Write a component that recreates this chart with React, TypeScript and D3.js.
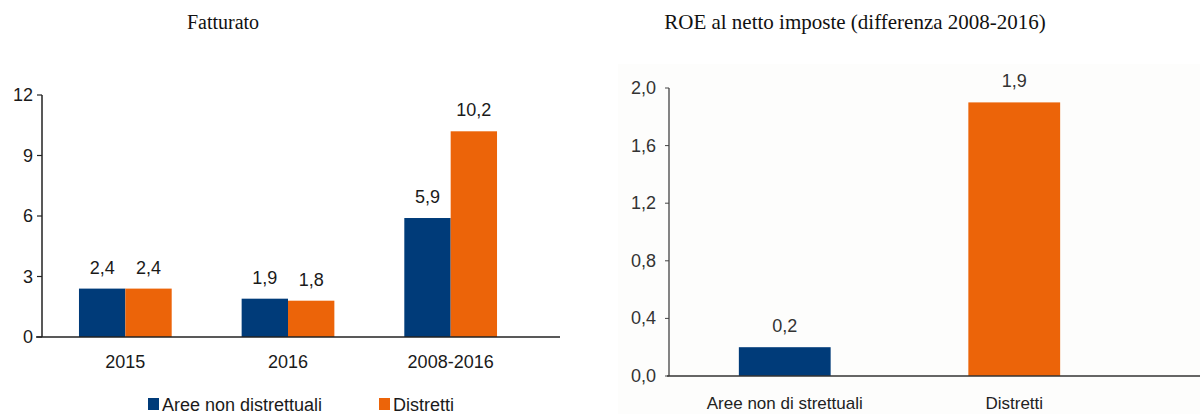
import React from "react";
import * as d3 from "d3";

// Fatturato (left chart)
const periods = ["2015", "2016", "2008-2016"];
const seriesNames = ["Aree non distrettuali", "Distretti"];
const areeNonDistrettuali = [2.4, 1.9, 5.9];
const distretti = [2.4, 1.8, 10.2];
const leftTicks = [0, 3, 6, 9, 12];

// ROE al netto imposte (right chart)
const roeCategories = ["Aree non di strettuali", "Distretti"];
const roeValues = [0.2, 1.9];
const rightTicks = [0, 0.4, 0.8, 1.2, 1.6, 2.0];

const BLUE = "#003b79";
const ORANGE = "#ec6409";
const TEXT = "#1a1a1a";
const SANS = "Arial, 'Liberation Sans', sans-serif";
const SERIF = "'Times New Roman', 'Liberation Serif', serif";

const fmt = (v: number, digits: number) => v.toFixed(digits).replace(".", ",");

function LeftChart() {
  const y = d3.scaleLinear().domain([0, 12]).range([337, 95]);
  const x0 = d3.scaleBand<string>().domain(periods).range([44, 532]).paddingInner(0.43).paddingOuter(0.215);
  const x1 = d3.scaleBand<string>().domain(seriesNames).range([0, x0.bandwidth()]);
  const colors = [BLUE, ORANGE];
  const series = [areeNonDistrettuali, distretti];
  const axisX = 42;

  return (
    <g>
      <text x={223} y={29} textAnchor="middle" fontFamily={SERIF} fontSize={20} fill="#111">
        Fatturato
      </text>
      {periods.map((p, i) =>
        series.map((s, j) => {
          const bx = (x0(p) ?? 0) + (x1(seriesNames[j]) ?? 0);
          const v = s[i];
          return (
            <g key={p + j}>
              <rect x={bx} y={y(v)} width={x1.bandwidth()} height={y(0) - y(v)} fill={colors[j]} />
              <text
                x={bx + x1.bandwidth() / 2}
                y={y(v) - 15}
                textAnchor="middle"
                fontFamily={SANS}
                fontSize={18}
                fill={TEXT}
              >
                {fmt(v, 1)}
              </text>
            </g>
          );
        })
      )}
      <line x1={axisX} x2={axisX} y1={y(12)} y2={y(0)} stroke="#222" strokeWidth={1.5} />
      <line x1={36} x2={560} y1={y(0)} y2={y(0)} stroke="#222" strokeWidth={1.5} />
      {leftTicks.map((t) => (
        <g key={t}>
          <line x1={axisX - 5} x2={axisX} y1={y(t)} y2={y(t)} stroke="#222" strokeWidth={1.2} />
          <text x={33} y={y(t) + 6} textAnchor="end" fontFamily={SANS} fontSize={18} fill={TEXT}>
            {t}
          </text>
        </g>
      ))}
      {periods.map((p) => (
        <text
          key={p}
          x={(x0(p) ?? 0) + x0.bandwidth() / 2}
          y={368}
          textAnchor="middle"
          fontFamily={SANS}
          fontSize={18}
          fill={TEXT}
        >
          {p}
        </text>
      ))}
      <rect x={148} y={398} width={11} height={12} fill={BLUE} />
      <text x={162} y={411} fontFamily={SANS} fontSize={18} fill={TEXT}>
        {seriesNames[0]}
      </text>
      <rect x={379} y={398} width={11} height={12} fill={ORANGE} />
      <text x={393} y={411} fontFamily={SANS} fontSize={18} fill={TEXT}>
        {seriesNames[1]}
      </text>
    </g>
  );
}

function RightChart() {
  const y = d3.scaleLinear().domain([0, 2]).range([376, 88]);
  const x = d3.scaleBand<string>().domain(roeCategories).range([670, 1129]).paddingInner(0.6).paddingOuter(0.3);
  const colors = [BLUE, ORANGE];
  const axisX = 669;

  return (
    <g>
      <text x={855} y={29} textAnchor="middle" fontFamily={SERIF} fontSize={21} fill="#111">
        ROE al netto imposte (differenza 2008-2016)
      </text>
      <rect x={618} y={64} width={582} height={350} fill="#fdfdfc" />
      {roeCategories.map((c, i) => {
        const v = roeValues[i];
        const bx = x(c) ?? 0;
        return (
          <g key={c}>
            <rect x={bx} y={y(v)} width={x.bandwidth()} height={y(0) - y(v)} fill={colors[i]} />
            <text
              x={bx + x.bandwidth() / 2}
              y={y(v) - 15}
              textAnchor="middle"
              fontFamily={SANS}
              fontSize={18}
              fill="#333"
            >
              {fmt(v, 1)}
            </text>
            <text
              x={bx + x.bandwidth() / 2}
              y={409}
              textAnchor="middle"
              fontFamily={SANS}
              fontSize={17}
              fill="#222"
            >
              {c}
            </text>
          </g>
        );
      })}
      <line x1={axisX} x2={axisX} y1={y(2)} y2={y(0)} stroke="#333" strokeWidth={1.2} />
      <line x1={667} x2={1200} y1={y(0)} y2={y(0)} stroke="#333" strokeWidth={1.5} />
      {rightTicks.map((t) => (
        <g key={t}>
          <line x1={axisX - 4} x2={axisX} y1={y(t)} y2={y(t)} stroke="#444" strokeWidth={1} />
          <text x={656} y={y(t) + 6} textAnchor="end" fontFamily={SANS} fontSize={18} fill="#333">
            {fmt(t, 1)}
          </text>
        </g>
      ))}
    </g>
  );
}

export default function App() {
  return (
    <svg
      width={1200}
      height={414}
      style={{ position: "absolute", left: 0, top: 0, background: "#fff" }}
    >
      <LeftChart />
      <RightChart />
    </svg>
  );
}
